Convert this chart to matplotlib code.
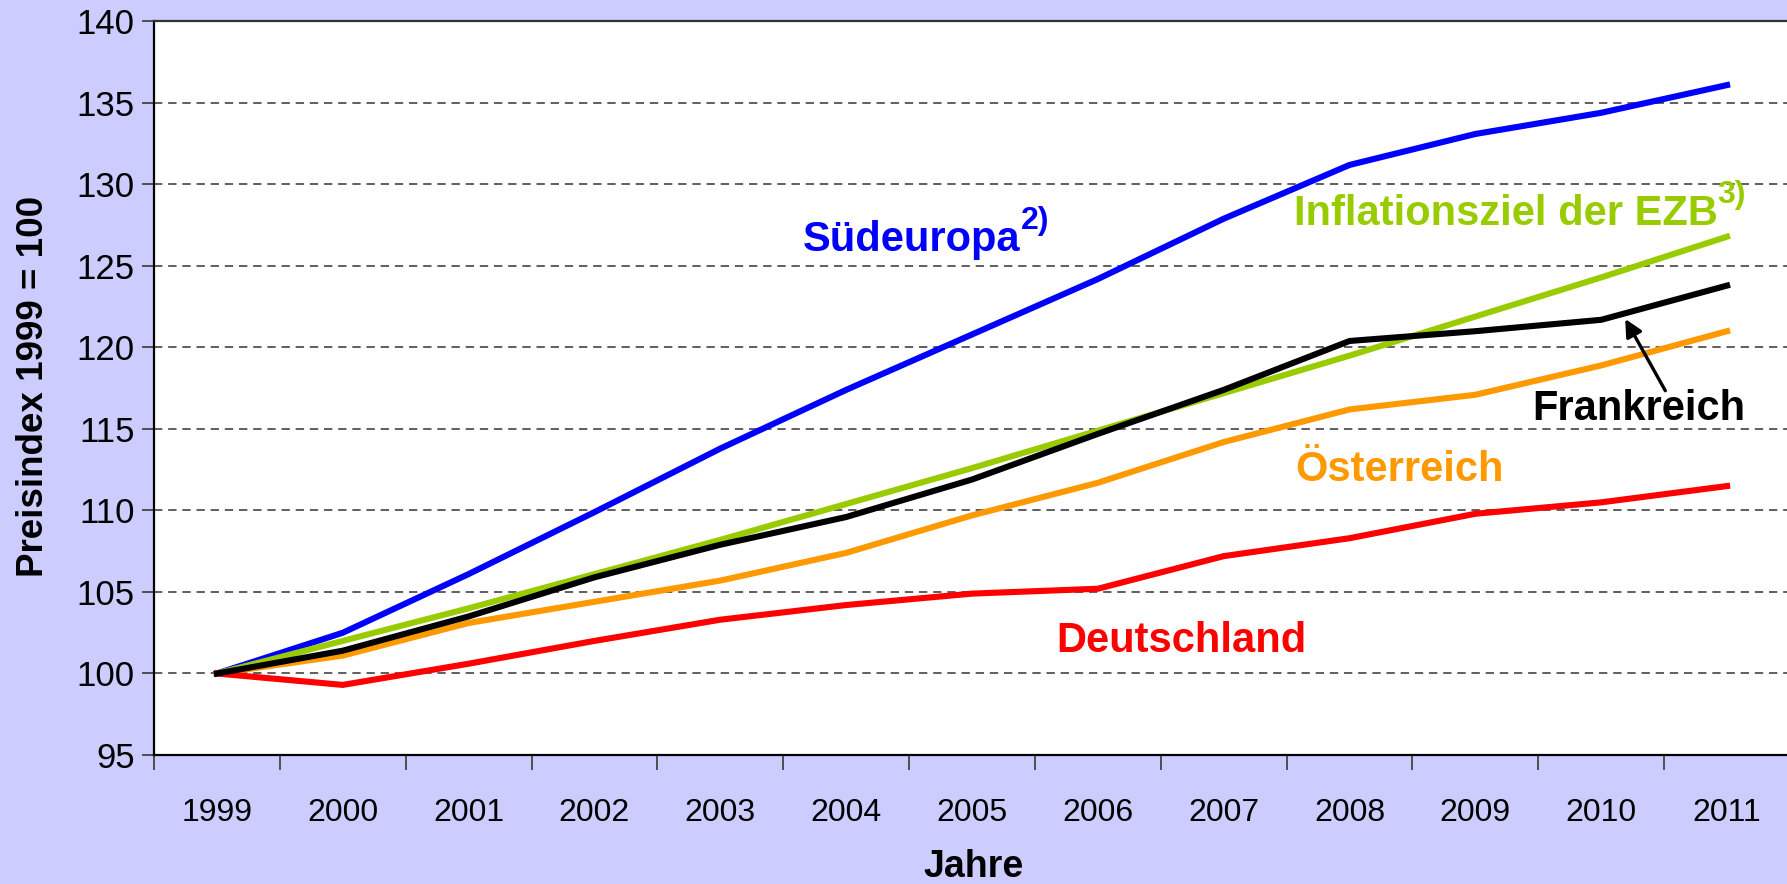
import matplotlib
matplotlib.use("Agg")
import matplotlib.pyplot as plt

plt.rcParams['font.family'] = ['Liberation Sans', 'DejaVu Sans']

# data (Preisindex, 1999 = 100)
years = ['1999', '2000', '2001', '2002', '2003', '2004', '2005',
         '2006', '2007', '2008', '2009', '2010', '2011']
suedeuropa = [100, 102.5, 106.1, 109.9, 113.8, 117.4, 120.8, 124.2, 127.9, 131.2, 133.1, 134.4, 136.1]
ezb_ziel = [100, 102.0, 104.0, 106.1, 108.2, 110.4, 112.6, 114.9, 117.2, 119.5, 121.9, 124.3, 126.8]
frankreich = [100, 101.4, 103.5, 105.9, 107.9, 109.6, 111.9, 114.7, 117.4, 120.4, 121.0, 121.7, 123.8]
oesterreich = [100, 101.1, 103.1, 104.4, 105.7, 107.4, 109.7, 111.7, 114.2, 116.2, 117.1, 118.9, 121.0]
deutschland = [100, 99.3, 100.6, 102.0, 103.3, 104.2, 104.9, 105.2, 107.2, 108.3, 109.8, 110.5, 111.5]

bg = '#CCCCFF'
fig = plt.figure(figsize=(17.87, 8.84), dpi=100, facecolor=bg)
ax = fig.add_axes([154/1787, 1 - 755/884, 1636/1787, 733.5/884])
ax.set_facecolor('white')

x = list(range(len(years)))
lw = 4.4
ax.plot(x, suedeuropa, color='#0000FF', lw=lw, zorder=3)
ax.plot(x, ezb_ziel, color='#99CC00', lw=lw, zorder=3)
ax.plot(x, oesterreich, color='#FF9900', lw=lw, zorder=3)
ax.plot(x, frankreich, color='black', lw=lw, zorder=4)
ax.plot(x, deutschland, color='#FF0000', lw=lw, zorder=3)

ax.set_xlim(-0.5, len(years) - 0.5)
ax.set_ylim(95, 140)
ax.set_yticks(range(95, 141, 5))
ax.set_xticks(x)
ax.set_xticklabels(years)
ax.set_xticks([i + 0.5 for i in range(-1, len(years))], minor=True)
ax.tick_params(axis='x', which='major', length=0, pad=31, labelsize=23)
ax.tick_params(axis='x', which='minor', length=11, width=1.3, color='#444444')
ax.tick_params(axis='y', length=9, width=1.3, color='#444444', pad=5, labelsize=25)

for v in range(100, 140, 5):
    ax.axhline(v, color='#444444', lw=1.2, dashes=(5, 3.5), zorder=1)

for s in ['left', 'bottom']:
    ax.spines[s].set_color('black')
    ax.spines[s].set_linewidth(1.6)
ax.spines['top'].set_color('#333333')
ax.spines['top'].set_linewidth(1.6)
ax.spines['right'].set_visible(False)

fig.text(34/1787, 1 - 386/884, 'Preisindex 1999 = 100', rotation=90,
         ha='center', va='center', fontsize=26.5, fontweight='bold')
fig.text(974/1787, 1 - 867/884, 'Jahre', ha='center', va='center',
         fontsize=27, fontweight='bold')

# series labels with superscripts
fs = 30
t1 = ax.text(5.52, 126.6, 'Südeuropa', color='#0000FF', fontsize=fs,
             fontweight='bold', ha='center', va='center')
ax.annotate('2)', xy=(1, 0.97), xycoords=t1, color='#0000FF', fontsize=23,
            fontweight='bold', ha='left', va='center')
t2 = ax.text(10.24, 128.2, 'Inflationsziel der EZB', color='#99CC00', fontsize=fs,
             fontweight='bold', ha='center', va='center')
ax.annotate('3)', xy=(1, 0.97), xycoords=t2, color='#99CC00', fontsize=23,
            fontweight='bold', ha='left', va='center')
ax.text(9.40, 112.5, 'Österreich', color='#FF9900', fontsize=fs,
        fontweight='bold', ha='center', va='center')
ax.text(7.66, 102.0, 'Deutschland', color='#FF0000', fontsize=fs,
        fontweight='bold', ha='center', va='center')
ax.text(11.30, 116.2, 'Frankreich', color='black', fontsize=fs,
        fontweight='bold', ha='center', va='center')
ax.annotate('', xy=(11.18, 121.9), xytext=(11.52, 117.2),
            arrowprops=dict(arrowstyle='-|>', color='black', lw=2.4,
                            mutation_scale=26))

fig.savefig('out.png', dpi=100, facecolor=bg)
